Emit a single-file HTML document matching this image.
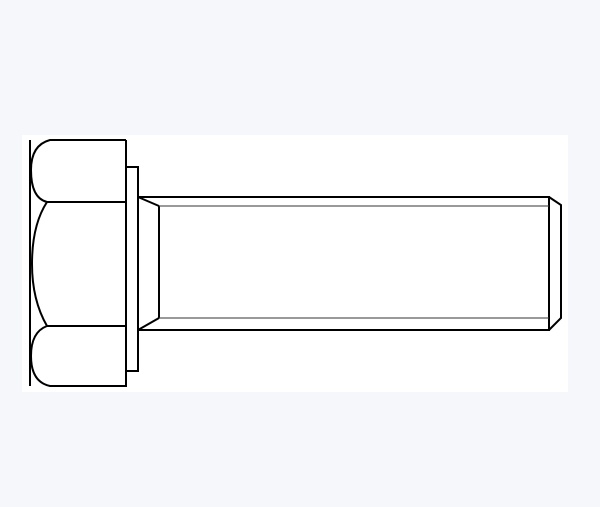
<!DOCTYPE html>
<html><head><style>
html,body{margin:0;padding:0;background:#f6f7fb;width:600px;height:507px;overflow:hidden}
</style></head><body>
<svg width="600" height="507" viewBox="0 0 600 507" xmlns="http://www.w3.org/2000/svg">
<rect x="22" y="135" width="546" height="257" fill="#fff"/>
<g fill="none" stroke="#000" stroke-width="2">
<!-- head -->
<line x1="30" y1="140" x2="30" y2="386"/>
<path d="M126 140 H50 Q31 145 31 170 Q31 198 47 202 H126 V140"/>
<path d="M47 202 Q32 225 32 264 Q32 300 47 326"/>
<path d="M126 326 H47 Q31 332 31 356 Q31 382 50 386 H126 V326"/>
<line x1="126" y1="202" x2="126" y2="326"/>
<!-- washer -->
<path d="M126 167 H138 V371 H126"/>
<!-- shank -->
<path d="M138 197 H549 V330 H138"/>
<line x1="159" y1="206" x2="159" y2="318"/>
<line x1="138" y1="197" x2="159" y2="206"/>
<line x1="138" y1="330" x2="159" y2="318"/>
<path d="M549 197 L561 205 V318 L549 330"/>
</g>
<g stroke="#333" stroke-width="1">
<line x1="159" y1="206" x2="549" y2="206"/>
<line x1="159" y1="318" x2="549" y2="318"/>
</g>
</svg>
</body></html>
